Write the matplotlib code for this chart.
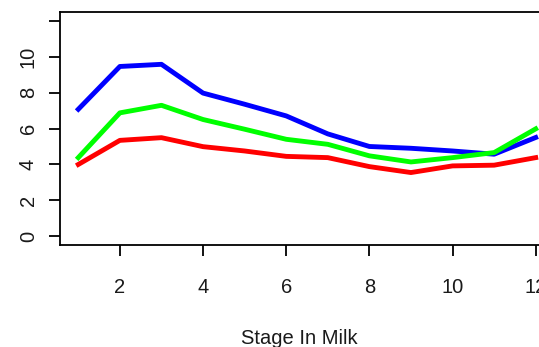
import numpy as np
import matplotlib
matplotlib.use('Agg')
import matplotlib.pyplot as plt

# ---- data ----
stage = [1, 2, 3, 4, 5, 6, 7, 8, 9, 10, 11, 12]
blue_vals = [7.07, 9.45, 9.57, 7.97, 7.35, 6.7, 5.7, 5.0, 4.9, 4.75, 4.57, 5.5]
green_vals = [4.38, 6.87, 7.29, 6.5, 5.96, 5.4, 5.12, 4.48, 4.14, 4.38, 4.66, 5.98]
red_vals = [4.0, 5.34, 5.49, 4.99, 4.75, 4.45, 4.38, 3.88, 3.55, 3.92, 3.96, 4.38]
xticks = [2, 4, 6, 8, 10, 12]
yticks = [0, 2, 4, 6, 8, 10, 12]
ytick_labels = ['0', '2', '4', '6', '8', '10', '']

plt.rcParams['font.family'] = ['Liberation Sans', 'DejaVu Sans']

W, H = 539, 347
fig = plt.figure(figsize=(W / 100, H / 100), dpi=100)
# plot region runs past the right edge of the picture (cropped R plot)
ax = fig.add_axes([60 / W, (H - 245) / H, (554 - 60) / W, (245 - 12) / H])

ax.plot(stage, blue_vals, color='#0000ff', lw=3.5)
ax.plot(stage, green_vals, color='#00ff00', lw=3.5)
ax.plot(stage, red_vals, color='#ff0000', lw=3.5)

ax.set_xlim(0.56, 12.44)
ax.set_ylim(-0.48, 12.48)
ax.set_xticks(xticks)
ax.set_yticks(yticks)
ax.set_yticklabels(ytick_labels, rotation=90, va='center')

txtcol = '#1a1a1a'
for s in ax.spines.values():
    s.set_linewidth(1.3)
    s.set_color('black')
ax.tick_params(length=8, width=1.3, labelsize=14.5, colors='black', labelcolor=txtcol)
ax.tick_params(axis='x', pad=16)
ax.tick_params(axis='y', pad=8)

ax.set_xlabel('Stage In Milk', fontsize=14.5, color=txtcol)
ax.xaxis.set_label_coords((299 - 60) / (554 - 60), -(329 - 245) / (245 - 12))

fig.savefig('out.png', dpi=100)
